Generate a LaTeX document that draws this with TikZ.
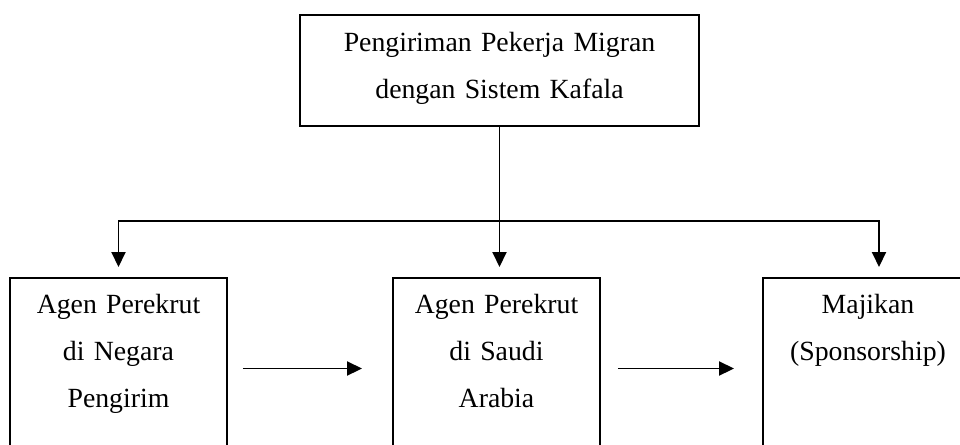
\documentclass[tikz,border=0pt]{standalone}
\usepackage{fontspec}
\setmainfont{Liberation Serif}
\usetikzlibrary{calc,positioning,arrows.meta}

\begin{document}
\begin{tikzpicture}

\tikzset{boxnode/.style={draw,line width=1.1pt,inner sep=0pt,align=center,anchor=north,
font=\fontsize{15.8}{26.5}\selectfont},
lownode/.style={boxnode,text height=0.72cm,text depth=4cm},
flowarrow/.style={line width=1.1pt,-{Triangle[length=3mm,width=2.8mm]}}}

% Canvas
\useasboundingbox (0,0) rectangle (19.2,-8.88);
\clip (0,0) rectangle (19.2,-8.88);

% Top node
\node (kafala) [boxnode,text width=7.98cm,text height=0.734cm,text depth=1.486cm] at (9.99,-0.28) {Pengiriman Pekerja Migran\\dengan Sistem Kafala};

% Lower nodes
\node (negara) [lownode,text width=4.34cm] at (2.37,-5.54) {Agen Perekrut\\di Negara\\Pengirim};
\node (saudi) [lownode,text width=4.14cm] at (9.93,-5.54) {Agen Perekrut\\di Saudi\\Arabia};
\node (majikan) [lownode,text width=4.2cm] at (17.36,-5.54) {Majikan\\(Sponsorship)};

%% Edges
\coordinate (hub) at ($(kafala.south)+(0,-1.88)$);
\coordinate (flowrow) at (0,-7.37);
\draw[line width=1.1pt] (kafala.south) -- (hub);
\draw[flowarrow,shorten >=0.2cm] (hub) -- (hub |- saudi.north);
\foreach \dest/\dx in {negara/0, majikan/0.22}
	\draw[flowarrow,shorten >=0.2cm] (hub) -| ([xshift=\dx cm]\dest.north);

% Flow between agents
\draw[flowarrow,shorten <=0.3cm,shorten >=0.6cm] (negara.east |- flowrow) -- (saudi.west |- flowrow);
\draw[flowarrow,shorten <=0.34cm,shorten >=0.56cm] (saudi.east |- flowrow) -- (majikan.west |- flowrow);
\end{tikzpicture}
\end{document}
